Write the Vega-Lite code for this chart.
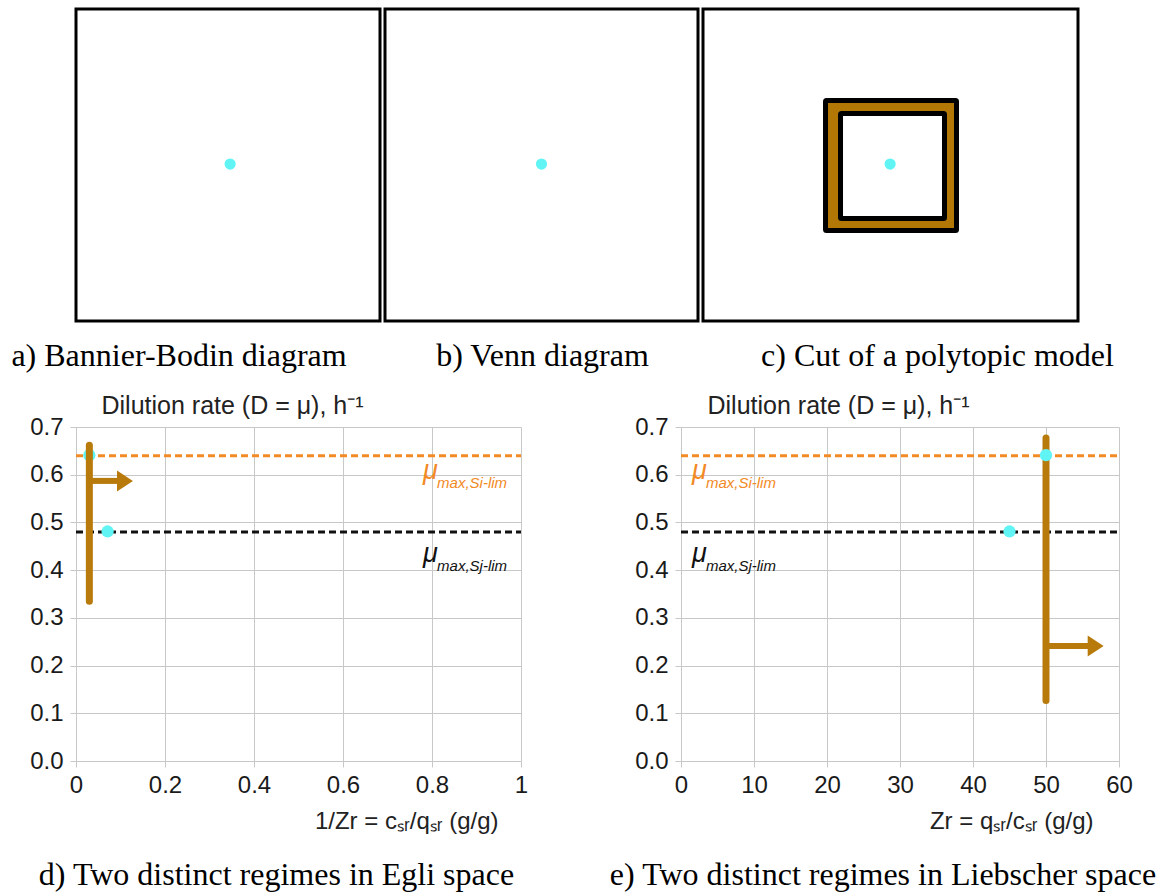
{
  "$schema": "https://vega.github.io/schema/vega-lite/v6.json",
  "background": "white",
  "padding": {"left": 9, "top": 7, "right": 5, "bottom": 5},
  "autosize": {"type": "pad"},
  "bounds": "flush",
  "spacing": 418,
  "config": {
    "view": {"stroke": null},
    "font": "Liberation Sans",
    "axis": {
      "labelFont": "Liberation Sans",
      "labelFontSize": 24,
      "labelColor": "#1a1a1a",
      "labelFlush": false,
      "labelOverlap": false,
      "gridColor": "#c8c8c8",
      "gridWidth": 1,
      "domainColor": "#c8c8c8",
      "domainWidth": 1,
      "tickColor": "#c8c8c8",
      "tickSize": 6,
      "titleFont": "Liberation Sans",
      "titleFontWeight": "normal",
      "titleColor": "#222222",
      "titleFontSize": 24
    },
    "title": {
      "font": "Liberation Serif",
      "fontSize": 32,
      "fontWeight": "normal",
      "color": "#000000",
      "orient": "bottom"
    }
  },
  "vconcat": [
    {
      "bounds": "flush",
      "spacing": 5,
      "hconcat": [
        {
          "width": 304,
          "height": 312,
          "view": {"stroke": "black", "strokeWidth": 3, "fill": "white"},
          "title": {"text": "a) Bannier-Bodin diagram", "offset": 20, "dx": -49},
          "data": {"values": [{"x": 0.507, "y": 0.503}]},
          "mark": {"type": "point", "filled": true, "size": 125, "color": "#60f4f4", "opacity": 1},
          "encoding": {
            "x": {"field": "x", "type": "quantitative", "scale": {"domain": [0, 1], "nice": false}, "axis": null},
            "y": {"field": "y", "type": "quantitative", "scale": {"domain": [0, 1], "nice": false}, "axis": null}
          }
        },
        {
          "width": 313,
          "height": 312,
          "view": {"stroke": "black", "strokeWidth": 3, "fill": "white"},
          "title": {"text": "b) Venn diagram", "offset": 20, "dx": 1},
          "data": {"values": [{"x": 0.5, "y": 0.503}]},
          "mark": {"type": "point", "filled": true, "size": 125, "color": "#60f4f4", "opacity": 1},
          "encoding": {
            "x": {"field": "x", "type": "quantitative", "scale": {"domain": [0, 1], "nice": false}, "axis": null},
            "y": {"field": "y", "type": "quantitative", "scale": {"domain": [0, 1], "nice": false}, "axis": null}
          }
        },
        {
          "width": 375,
          "height": 312,
          "view": {"stroke": "black", "strokeWidth": 3, "fill": "white"},
          "title": {"text": "c) Cut of a polytopic model", "offset": 20, "dx": 47},
          "data": {"values": [
            {"part": "outer", "x": 0.3267, "x2": 0.676, "y": 0.29, "y2": 0.7067},
            {"part": "inner", "x": 0.3667, "x2": 0.644, "y": 0.3285, "y2": 0.665},
            {"part": "dot", "x": 0.499, "y": 0.503}
          ]},
          "encoding": {
            "x": {"field": "x", "type": "quantitative", "scale": {"domain": [0, 1], "nice": false}, "axis": null},
            "y": {"field": "y", "type": "quantitative", "scale": {"domain": [0, 1], "nice": false}, "axis": null}
          },
          "layer": [
            {
              "transform": [{"filter": "datum.part === 'outer'"}],
              "mark": {"type": "rect", "fill": "#b37705", "stroke": "black", "strokeWidth": 5, "cornerRadius": 1},
              "encoding": {"x2": {"field": "x2"}, "y2": {"field": "y2"}}
            },
            {
              "transform": [{"filter": "datum.part === 'inner'"}],
              "mark": {"type": "rect", "fill": "white", "stroke": "black", "strokeWidth": 5, "cornerRadius": 1},
              "encoding": {"x2": {"field": "x2"}, "y2": {"field": "y2"}}
            },
            {
              "transform": [{"filter": "datum.part === 'dot'"}],
              "mark": {"type": "point", "filled": true, "size": 125, "color": "#60f4f4", "opacity": 1}
            }
          ]
        }
      ]
    },
    {
      "bounds": "flush",
      "spacing": 160,
      "hconcat": [
        {
          "width": 445,
          "height": 334,
          "title": {"text": "d) Two distinct regimes in Egli space", "offset": 27, "dx": -22},
          "data": {"values": [
            {"kind": "limit", "series": "Si", "x": 0, "x2": 1, "y": 0.64},
            {"kind": "limit", "series": "Sj", "x": 0, "x2": 1, "y": 0.48},
            {"kind": "dot", "x": 0.03, "y": 0.641},
            {"kind": "dot", "x": 0.071, "y": 0.481},
            {"kind": "bar", "x": 0.03, "y": 0.335, "y2": 0.662},
            {"kind": "shaft", "x": 0.03, "x2": 0.097, "y": 0.587},
            {"kind": "head", "x": 0.11, "y": 0.587},
            {"kind": "label", "series": "Si", "sub": "max,Si-lim", "x": 0.78, "y": 0.592},
            {"kind": "label", "series": "Sj", "sub": "max,Sj-lim", "x": 0.78, "y": 0.417}
          ]},
          "encoding": {
            "x": {
              "field": "x", "type": "quantitative",
              "scale": {"domain": [0, 1], "nice": false, "zero": false},
              "axis": {
                "values": [0, 0.2, 0.4, 0.6, 0.8, 1],
                "format": "~g",
                "grid": true,
                "labelPadding": 6,
                "title": "1/Zr = cₛᵣ/qₛᵣ (g/g)",
                "titleAlign": "right",
                "titleAnchor": "end",
                "titleBaseline": "alphabetic",
                "titleX": 422,
                "titleY": 67
              }
            },
            "y": {
              "field": "y", "type": "quantitative",
              "scale": {"domain": [0, 0.7], "nice": false},
              "axis": {
                "values": [0, 0.1, 0.2, 0.3, 0.4, 0.5, 0.6, 0.7],
                "format": ".1f",
                "grid": true,
                "labelPadding": 7,
                "title": "Dilution rate (D = μ), h⁻¹",
                "titleFontSize": 25,
                "titleAngle": 0,
                "titleAlign": "left",
                "titleBaseline": "alphabetic",
                "titleX": 25,
                "titleY": -14
              }
            }
          },
          "layer": [
            {
              "transform": [{"filter": "datum.kind === 'limit'"}],
              "mark": {"type": "rule", "strokeWidth": 3, "strokeDash": [7, 4]},
              "encoding": {
                "x2": {"field": "x2"},
                "color": {"field": "series", "type": "nominal", "scale": {"domain": ["Si", "Sj"], "range": ["#f28a26", "#111111"]}, "legend": null}
              }
            },
            {
              "transform": [{"filter": "datum.kind === 'dot'"}],
              "mark": {"type": "point", "filled": true, "size": 150, "color": "#60f4f4", "opacity": 1}
            },
            {
              "transform": [{"filter": "datum.kind === 'bar'"}],
              "mark": {"type": "rule", "strokeWidth": 7, "strokeCap": "round", "color": "#b87a0a"},
              "encoding": {"y2": {"field": "y2"}}
            },
            {
              "transform": [{"filter": "datum.kind === 'shaft'"}],
              "mark": {"type": "rule", "strokeWidth": 6, "color": "#b87a0a"},
              "encoding": {"x2": {"field": "x2"}}
            },
            {
              "transform": [{"filter": "datum.kind === 'head'"}],
              "mark": {"type": "point", "shape": "M -0.76 -1 L 0.76 0 L -0.76 1 Z", "filled": true, "size": 441, "color": "#b87a0a", "opacity": 1, "strokeWidth": 0}
            },
            {
              "transform": [{"filter": "datum.kind === 'label'"}],
              "mark": {"type": "text", "text": "μ", "fontSize": 27, "fontStyle": "italic", "align": "left", "baseline": "alphabetic"},
              "encoding": {
                "color": {"field": "series", "type": "nominal", "scale": {"domain": ["Si", "Sj"], "range": ["#f28a26", "#111111"]}, "legend": null}
              }
            },
            {
              "transform": [{"filter": "datum.kind === 'label'"}],
              "mark": {"type": "text", "fontSize": 15, "fontStyle": "italic", "align": "left", "baseline": "alphabetic", "dx": 14, "dy": 9},
              "encoding": {
                "text": {"field": "sub"},
                "color": {"field": "series", "type": "nominal", "scale": {"domain": ["Si", "Sj"], "range": ["#f28a26", "#111111"]}, "legend": null}
              }
            }
          ]
        },
        {
          "width": 438,
          "height": 334,
          "title": {"text": "e) Two distinct regimes in Liebscher space", "offset": 27, "dx": -17},
          "data": {"values": [
            {"kind": "limit", "series": "Si", "x": 0, "x2": 60, "y": 0.64},
            {"kind": "limit", "series": "Sj", "x": 0, "x2": 60, "y": 0.48},
            {"kind": "bar", "x": 50, "y": 0.127, "y2": 0.677},
            {"kind": "shaft", "x": 50, "x2": 56, "y": 0.241},
            {"kind": "head", "x": 56.8, "y": 0.241},
            {"kind": "dot", "x": 50, "y": 0.641},
            {"kind": "dot", "x": 45, "y": 0.481},
            {"kind": "label", "series": "Si", "sub": "max,Si-lim", "x": 1.5, "y": 0.59},
            {"kind": "label", "series": "Sj", "sub": "max,Sj-lim", "x": 1.5, "y": 0.418}
          ]},
          "encoding": {
            "x": {
              "field": "x", "type": "quantitative",
              "scale": {"domain": [0, 60], "nice": false, "zero": false},
              "axis": {
                "values": [0, 10, 20, 30, 40, 50, 60],
                "format": "d",
                "grid": true,
                "labelPadding": 6,
                "title": "Zr = qₛᵣ/cₛᵣ (g/g)",
                "titleAlign": "right",
                "titleAnchor": "end",
                "titleBaseline": "alphabetic",
                "titleX": 412,
                "titleY": 67
              }
            },
            "y": {
              "field": "y", "type": "quantitative",
              "scale": {"domain": [0, 0.7], "nice": false},
              "axis": {
                "values": [0, 0.1, 0.2, 0.3, 0.4, 0.5, 0.6, 0.7],
                "format": ".1f",
                "grid": true,
                "labelPadding": 7,
                "title": "Dilution rate (D = μ), h⁻¹",
                "titleFontSize": 25,
                "titleAngle": 0,
                "titleAlign": "left",
                "titleBaseline": "alphabetic",
                "titleX": 26,
                "titleY": -14
              }
            }
          },
          "layer": [
            {
              "transform": [{"filter": "datum.kind === 'limit'"}],
              "mark": {"type": "rule", "strokeWidth": 3, "strokeDash": [7, 4]},
              "encoding": {
                "x2": {"field": "x2"},
                "color": {"field": "series", "type": "nominal", "scale": {"domain": ["Si", "Sj"], "range": ["#f28a26", "#111111"]}, "legend": null}
              }
            },
            {
              "transform": [{"filter": "datum.kind === 'bar'"}],
              "mark": {"type": "rule", "strokeWidth": 7, "strokeCap": "round", "color": "#b87a0a"},
              "encoding": {"y2": {"field": "y2"}}
            },
            {
              "transform": [{"filter": "datum.kind === 'shaft'"}],
              "mark": {"type": "rule", "strokeWidth": 6, "color": "#b87a0a"},
              "encoding": {"x2": {"field": "x2"}}
            },
            {
              "transform": [{"filter": "datum.kind === 'head'"}],
              "mark": {"type": "point", "shape": "M -0.76 -1 L 0.76 0 L -0.76 1 Z", "filled": true, "size": 441, "color": "#b87a0a", "opacity": 1, "strokeWidth": 0}
            },
            {
              "transform": [{"filter": "datum.kind === 'dot'"}],
              "mark": {"type": "point", "filled": true, "size": 150, "color": "#60f4f4", "opacity": 1}
            },
            {
              "transform": [{"filter": "datum.kind === 'label'"}],
              "mark": {"type": "text", "text": "μ", "fontSize": 27, "fontStyle": "italic", "align": "left", "baseline": "alphabetic"},
              "encoding": {
                "color": {"field": "series", "type": "nominal", "scale": {"domain": ["Si", "Sj"], "range": ["#f28a26", "#111111"]}, "legend": null}
              }
            },
            {
              "transform": [{"filter": "datum.kind === 'label'"}],
              "mark": {"type": "text", "fontSize": 15, "fontStyle": "italic", "align": "left", "baseline": "alphabetic", "dx": 14, "dy": 9},
              "encoding": {
                "text": {"field": "sub"},
                "color": {"field": "series", "type": "nominal", "scale": {"domain": ["Si", "Sj"], "range": ["#f28a26", "#111111"]}, "legend": null}
              }
            }
          ]
        }
      ]
    }
  ]
}
